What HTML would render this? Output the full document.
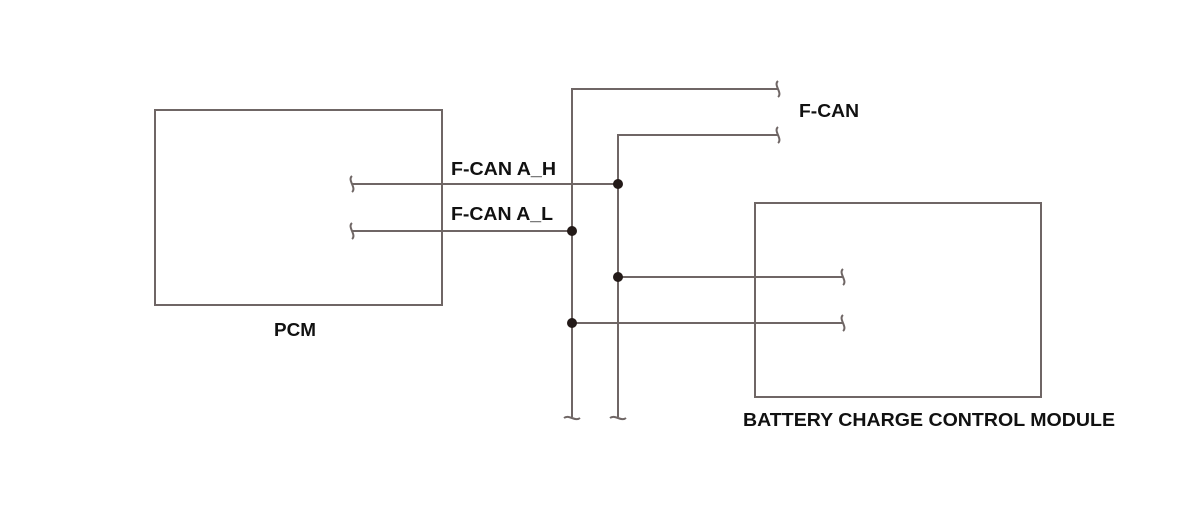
<!DOCTYPE html>
<html><head><style>body{margin:0;background:#fff}svg{display:block}text{font-family:"Liberation Sans",sans-serif;font-weight:bold;font-size:18.5px;fill:#111}</style></head>
<body><svg width="1200" height="517" viewBox="0 0 1200 517">
<g stroke="#6f6665" stroke-width="2" fill="none">
<rect x="155" y="110" width="287" height="195"/>
<rect x="755" y="203" width="286" height="194"/>
<path d="M572 417V89H778M618 417V135H778M352 184H618M352 231H572M618 277H843M572 323H843"/>
<path d="M778 81c-5 4 5 12 0 16M778 127c-5 4 5 12 0 16M352 176c-5 4 5 12 0 16M352 223c-5 4 5 12 0 16M843 269c-5 4 5 12 0 16M843 315c-5 4 5 12 0 16M564 418c5 -4 11 4 16 0M610 418c5 -4 11 4 16 0"/>
</g>
<g fill="#231a18"><circle cx="618" cy="184" r="5"/><circle cx="572" cy="231" r="5"/><circle cx="618" cy="277" r="5"/><circle cx="572" cy="323" r="5"/></g>
<text x="799" y="117" textLength="60" lengthAdjust="spacingAndGlyphs">F-CAN</text>
<text x="451" y="175" textLength="105" lengthAdjust="spacingAndGlyphs">F-CAN A_H</text>
<text x="451" y="220" textLength="102" lengthAdjust="spacingAndGlyphs">F-CAN A_L</text>
<text x="274" y="336" textLength="42" lengthAdjust="spacingAndGlyphs">PCM</text>
<text x="743" y="426" textLength="372" lengthAdjust="spacingAndGlyphs">BATTERY CHARGE CONTROL MODULE</text>
</svg></body></html>
